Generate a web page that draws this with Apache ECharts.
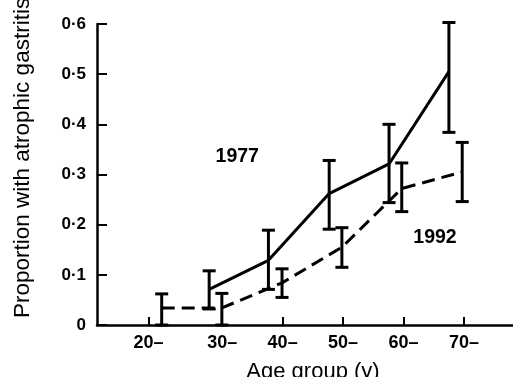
<!DOCTYPE html>
<html>
<head>
<meta charset="utf-8">
<script src="https://cdn.jsdelivr.net/npm/echarts@6/dist/echarts.min.js"></script>
<style>
html,body{margin:0;padding:0;background:#fff;}
#c{width:513px;height:377px;}
</style>
</head>
<body>
<div id="c"></div>
<script>
// Age-group positions (x) and tick labels
const tickValues = [17.8, 30, 40, 50, 60, 70];
const tickLabels = ['20–', '30–', '40–', '50–', '60–', '70–'];
const yTicks = [0, 0.1, 0.2, 0.3, 0.4, 0.5, 0.6];

// 1977 survey
const age1977 = [27.85, 37.65, 47.7, 57.6, 67.5];
const prop1977 = [0.071, 0.129, 0.262, 0.321, 0.505];
const low1977 = [0.032, 0.071, 0.191, 0.244, 0.384];
const high1977 = [0.108, 0.189, 0.328, 0.400, 0.603];

// 1992 survey
const age1992 = [20, 29.95, 39.9, 49.8, 59.7, 69.7];
const prop1992 = [0.034, 0.034, 0.084, 0.155, 0.272, 0.305];
const low1992 = [0, 0, 0.055, 0.115, 0.226, 0.246];
const high1992 = [0.062, 0.063, 0.112, 0.194, 0.323, 0.364];

// Series labels
const seriesLabels = [[32.5, 0.335, '1977'], [65.2, 0.175, '1992']];

const zip2 = (a, b) => a.map((v, i) => [v, b[i]]);
const zip3 = (a, b, c) => a.map((v, i) => [v, b[i], c[i]]);

function errRender(params, api) {
  const x = api.value(0), lo = api.value(1), hi = api.value(2);
  const pLo = api.coord([x, lo]);
  const pHi = api.coord([x, hi]);
  const hw = 6.5;
  const st = { stroke: '#000', lineWidth: 3 };
  return {
    type: 'group',
    children: [
      { type: 'line', shape: { x1: pLo[0], y1: pLo[1], x2: pHi[0], y2: pHi[1] }, style: st },
      { type: 'line', shape: { x1: pHi[0] - hw, y1: pHi[1], x2: pHi[0] + hw, y2: pHi[1] }, style: st },
      { type: 'line', shape: { x1: pLo[0] - hw, y1: pLo[1], x2: pLo[0] + hw, y2: pLo[1] }, style: st }
    ]
  };
}

const chart = echarts.init(document.getElementById('c'), null, { renderer: 'canvas' });
const font = '"Liberation Sans", Arial, Helvetica, sans-serif';
chart.setOption({
  animation: false,
  backgroundColor: '#fff',
  grid: { left: 97, right: 0, top: 24, bottom: 52, containLabel: false },
  xAxis: {
    type: 'value', min: 9.3, max: 78.1,
    axisLine: { show: true, onZero: false, lineStyle: { color: '#000', width: 2.5 } },
    axisTick: { show: true, inside: true, length: 8, customValues: tickValues, lineStyle: { color: '#000', width: 2 } },
    axisLabel: {
      customValues: tickValues,
      formatter: v => { const i = tickValues.findIndex(t => Math.abs(t - v) < 1e-6); return i >= 0 ? tickLabels[i] : ''; },
      color: '#000', fontSize: 18, fontWeight: 'bold', fontFamily: font, margin: 9
    },
    splitLine: { show: false }
  },
  yAxis: {
    type: 'value', min: 0, max: 0.6, interval: 0.1,
    axisLine: { show: true, lineStyle: { color: '#000', width: 2.5 } },
    axisTick: { show: true, inside: true, length: 10, lineStyle: { color: '#000', width: 2 } },
    axisLabel: {
      formatter: v => v === 0 ? '0' : v.toFixed(1).replace('.', '·'),
      color: '#000', fontSize: 17, fontWeight: 'bold', fontFamily: font, margin: 11
    },
    splitLine: { show: false }
  },
  graphic: [
    { type: 'text', x: 313, y: 361, style: { text: 'Age group (y)', fill: '#000', font: '22px ' + font, textAlign: 'center', textVerticalAlign: 'top' } },
    { type: 'text', x: 23, y: 318, rotation: Math.PI / 2, style: { text: 'Proportion with atrophic gastritis', fill: '#000', font: '22.5px ' + font, textAlign: 'left', textVerticalAlign: 'middle' } }
  ],
  series: [
    { type: 'line', data: zip2(age1977, prop1977), symbol: 'none', lineStyle: { color: '#000', width: 3 }, z: 3 },
    { type: 'line', data: zip2(age1992, prop1992), symbol: 'none', lineStyle: { color: '#000', width: 3, type: [13, 7] }, z: 3 },
    { type: 'custom', data: zip3(age1977, low1977, high1977), renderItem: errRender, z: 4 },
    { type: 'custom', data: zip3(age1992, low1992, high1992), renderItem: errRender, z: 4 },
    {
      type: 'scatter', data: seriesLabels, symbolSize: 0, silent: true,
      itemStyle: { opacity: 1, color: '#000' },
      emphasis: { disabled: true },
      label: { show: true, position: 'inside', formatter: p => p.data[2], color: '#000', opacity: 1, fontSize: 19.5, fontWeight: 'bold', fontFamily: font }
    }
  ]
});
</script>
</body>
</html>
